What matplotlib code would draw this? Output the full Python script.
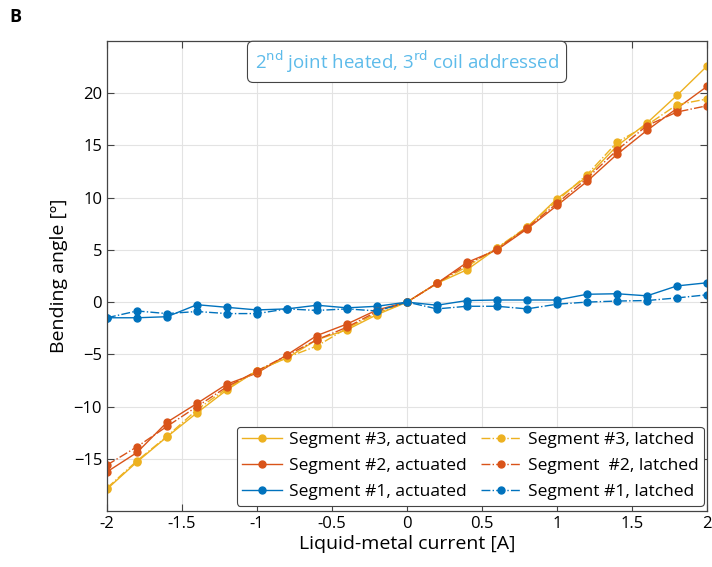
import matplotlib.pyplot as plt

plt.rcParams['font.family'] = ['Open Sans', 'DejaVu Sans']

# current [A]
current = [-2.0, -1.8, -1.6, -1.4, -1.2, -1.0, -0.8, -0.6, -0.4, -0.2, 0.0,
           0.2, 0.4, 0.6, 0.8, 1.0, 1.2, 1.4, 1.6, 1.8, 2.0]

seg3_act = [-17.9, -15.3, -12.9, -10.6, -8.4, -6.55, -5.35, -3.6, -2.65, -1.2, 0.0,
            1.8, 3.1, 5.15, 7.15, 9.9, 12.0, 14.95, 17.15, 19.8, 22.6]
seg3_lat = [-17.8, -15.2, -12.85, -10.3, -8.25, -6.6, -5.3, -4.2, -2.5, -1.05, 0.0,
            1.8, 3.4, 5.2, 7.2, 9.7, 12.2, 15.3, 16.95, 18.9, 19.45]
seg2_act = [-16.25, -14.4, -11.5, -9.7, -7.85, -6.8, -5.05, -3.2, -2.1, -0.75, 0.0,
            1.8, 3.8, 5.0, 7.0, 9.25, 11.55, 14.15, 16.45, 18.55, 20.65]
seg2_lat = [-15.6, -13.85, -11.9, -10.0, -8.1, -6.6, -5.1, -3.6, -2.4, -0.9, 0.0,
            1.8, 3.6, 5.1, 7.1, 9.45, 11.85, 14.55, 16.9, 18.2, 18.8]
seg1_act = [-1.5, -1.5, -1.4, -0.25, -0.5, -0.75, -0.65, -0.3, -0.55, -0.4, 0.0,
            -0.3, 0.15, 0.2, 0.2, 0.2, 0.75, 0.8, 0.6, 1.55, 1.85]
seg1_lat = [-1.5, -0.85, -1.1, -0.9, -1.1, -1.1, -0.65, -0.8, -0.65, -0.85, 0.0,
            -0.65, -0.4, -0.4, -0.65, -0.2, 0.0, 0.1, 0.15, 0.4, 0.7]

blue = '#0072BD'
red = '#D95319'
yellow = '#EDB120'

fig = plt.figure(figsize=(7.12, 5.67), dpi=100)
ax = fig.add_axes([0.1503, 0.0988, 0.8427, 0.8289])

lw = 1.0
ms = 5
l1, = ax.plot(current, seg3_act, '-o', color=yellow, lw=lw, ms=ms, label='Segment #3, actuated')
l2, = ax.plot(current, seg2_act, '-o', color=red, lw=lw, ms=ms, label='Segment #2, actuated')
l3, = ax.plot(current, seg1_act, '-o', color=blue, lw=lw, ms=ms, label='Segment #1, actuated')
l4, = ax.plot(current, seg3_lat, '-.o', color=yellow, lw=lw, ms=ms, label='Segment #3, latched')
l5, = ax.plot(current, seg2_lat, '-.o', color=red, lw=lw, ms=ms, label='Segment  #2, latched')
l6, = ax.plot(current, seg1_lat, '-.o', color=blue, lw=lw, ms=ms, label='Segment #1, latched')

ax.set_xlim(-2, 2)
ax.set_ylim(-20, 25)
ax.set_xticks([-2, -1.5, -1, -0.5, 0, 0.5, 1, 1.5, 2])
ax.set_xticklabels(['-2', '-1.5', '-1', '-0.5', '0', '0.5', '1', '1.5', '2'])
ax.set_yticks([-15, -10, -5, 0, 5, 10, 15, 20])
ax.grid(True, color='#e3e3e3', lw=0.8)
ax.set_axisbelow(True)
ax.tick_params(direction='in', top=True, right=True, labelsize=12, length=5, color='#444444')
for s in ax.spines.values():
    s.set_color('#444444')
    s.set_linewidth(0.9)

ax.set_xlabel('Liquid-metal current [A]', fontsize=14, labelpad=2)
ax.set_ylabel('Bending angle [º]', fontsize=14)

leg = ax.legend(handles=[l1, l2, l3, l4, l5, l6], ncol=2, loc='lower right',
                fontsize=12.5, handlelength=2.3, columnspacing=0.8, handletextpad=0.4,
                labelspacing=0.58, borderpad=0.3, borderaxespad=0.2, fancybox=True,
                framealpha=1, edgecolor='#444444', bbox_to_anchor=(1.0, 0.004))
leg.get_frame().set_linewidth(0.8)

ax.text(0.0, 23.0, '2$^{\\rm nd}$ joint heated, 3$^{\\rm rd}$ coil addressed',
        ha='center', va='center', fontsize=13.5, color='#5DBBEA',
        bbox=dict(boxstyle='round,pad=0.4,rounding_size=0.3', fc='white', ec='#444444', lw=0.8))

fig.text(0.013, 0.962, 'B', fontsize=13, fontweight='bold')

fig.savefig('out.png', dpi=100)
